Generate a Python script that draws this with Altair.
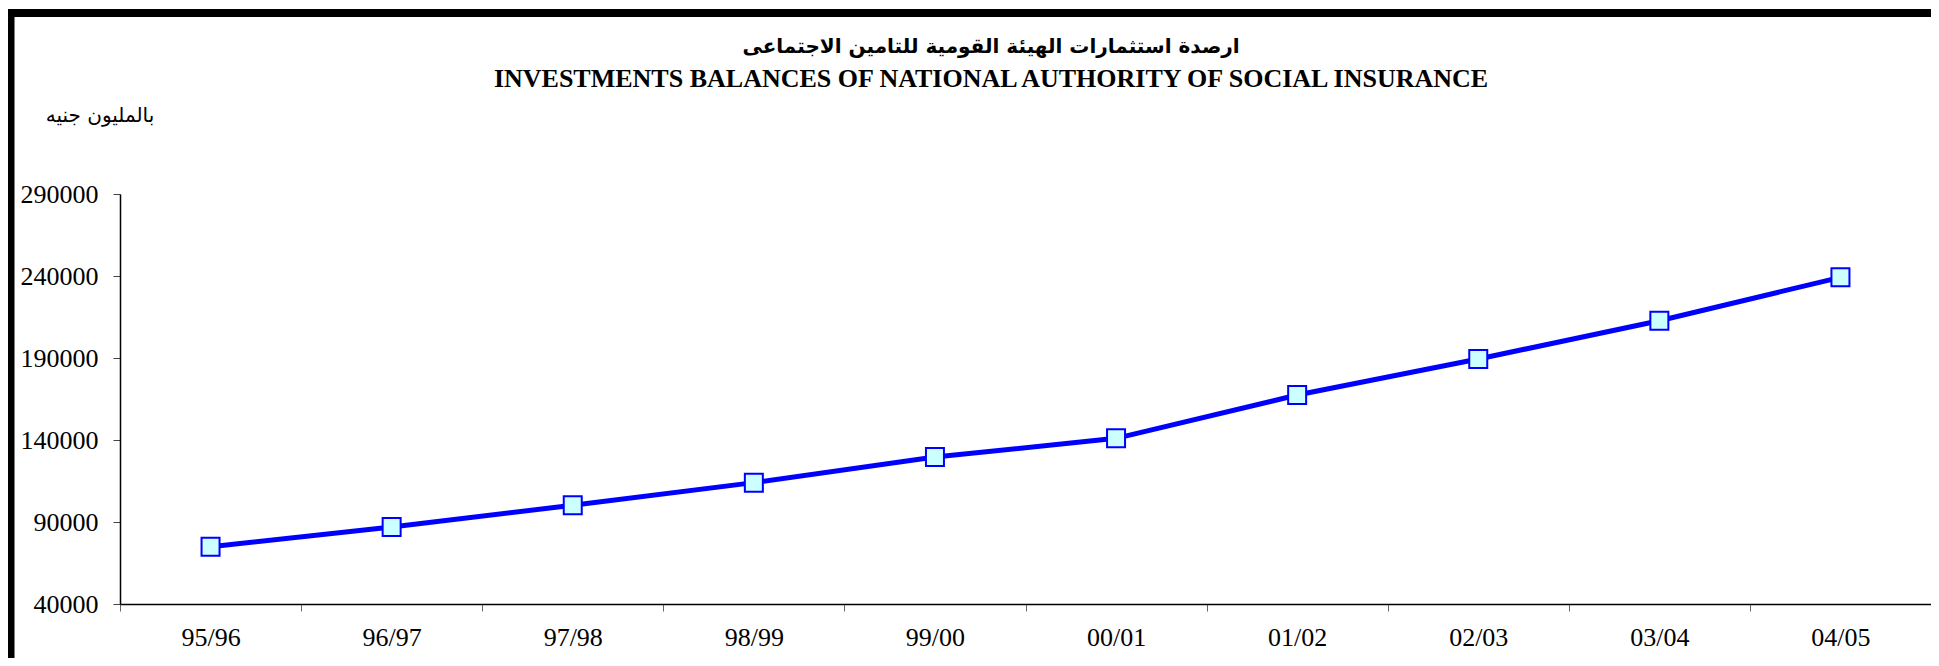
import altair as alt
import pandas as pd

years = ["95/96", "96/97", "97/98", "98/99", "99/00", "00/01", "01/02", "02/03", "03/04", "04/05"]
balances = [74900, 86950, 100200, 114000, 129600, 141000, 167400, 189400, 212700, 239200]
y_ticks = [40000, 90000, 140000, 190000, 240000, 290000]
title_ar = "ارصدة استثمارات الهيئة القومية للتامين الاجتماعى"
title_en = "INVESTMENTS BALANCES OF NATIONAL AUTHORITY OF SOCIAL INSURANCE"
unit_ar = "بالمليون جنيه"

W, H = 1811, 410

df = pd.DataFrame({"year": years, "value": balances})

x_enc = alt.X(
    "year:N", sort=years,
    scale=alt.Scale(type="band", paddingInner=0, paddingOuter=0),
    axis=alt.Axis(title=None, labelAngle=0, tickBand="extent", tickSize=7,
                  labelPadding=13, labelFont="Liberation Serif", labelFontSize=26,
                  labelColor="black", domainColor="black", domainWidth=1.5,
                  tickColor="#666666", tickWidth=1, grid=False),
)
y_enc = alt.Y(
    "value:Q",
    scale=alt.Scale(domain=[40000, 290000], nice=False, zero=False),
    axis=alt.Axis(title=None, values=y_ticks, format="d", tickSize=7, labelPadding=15,
                  labelFont="Liberation Serif", labelFontSize=26, labelColor="black",
                  domainColor="black", domainWidth=1.5, tickColor="#444444", tickWidth=1,
                  grid=False),
)

base = alt.Chart(df)
line = base.mark_line(color="#0000FF", strokeWidth=5).encode(x=x_enc, y=y_enc)
pts = base.mark_point(shape="square", filled=True, fill="#CCFFFF", stroke="#0000FF",
                      strokeWidth=2, size=324, opacity=1).encode(x=x_enc, y=y_enc)

t_ar = alt.Chart(pd.DataFrame({"t": [title_ar]})).mark_text(
    font="DejaVu Sans", fontSize=20, fontWeight="bold", color="black",
    align="center", baseline="middle").encode(
    text="t:N", x=alt.value(871), y=alt.value(-147))
t_en = alt.Chart(pd.DataFrame({"t": [title_en]})).mark_text(
    font="Liberation Serif", fontSize=26, fontWeight="bold", color="black",
    align="center", baseline="alphabetic").encode(
    text="t:N", x=alt.value(871), y=alt.value(-107))
t_unit = alt.Chart(pd.DataFrame({"t": [unit_ar]})).mark_text(
    font="DejaVu Sans", fontSize=20, color="black",
    align="center", baseline="middle").encode(
    text="t:N", x=alt.value(-20), y=alt.value(-78))

frame_top = alt.Chart(pd.DataFrame({"k": [0]})).mark_rule(color="black", strokeWidth=8).encode(
    x=alt.value(-113), x2=alt.value(W + 20), y=alt.value(-181))
frame_left = alt.Chart(pd.DataFrame({"k": [0]})).mark_rule(color="black", strokeWidth=7).encode(
    x=alt.value(-109), y=alt.value(-185), y2=alt.value(H + 80))

chart = alt.layer(frame_top, frame_left, t_ar, t_en, t_unit, line, pts).properties(
    width=W, height=H,
    view=alt.ViewBackground(stroke="#ffffff", strokeWidth=0, strokeOpacity=0),
    autosize=alt.AutoSizeParams(type="none"),
    padding={"left": 112, "top": 186, "right": 0, "bottom": 54},
).configure_view(stroke="#ffffff", strokeWidth=0).configure_axis(
    grid=False, gridOpacity=0).configure(background="white")

chart.save("out.html", embed_options={"renderer": "svg", "actions": False})
